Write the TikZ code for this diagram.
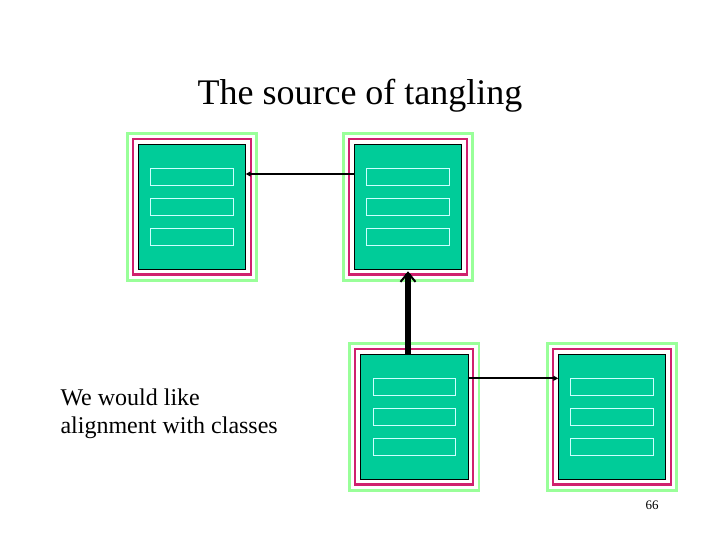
\documentclass[tikz,border=0pt]{standalone}
\usepackage{fontspec}
\setmainfont{Liberation Serif}
\usetikzlibrary{arrows.meta,calc}
\definecolor{boxteal}{HTML}{00CC99}
\definecolor{boxmag}{HTML}{D0206E}
\definecolor{boxgreen}{HTML}{99FF99}
\definecolor{rowline}{HTML}{CCFFFF}
\begin{document}
\begin{tikzpicture}[x=1pt,y=-1pt,
  classbox/.style={draw=black, line width=0.8pt, fill=boxteal, minimum width=107.4pt, minimum height=125pt, inner sep=0pt, outer sep=0pt},
  magframe/.style={draw=boxmag, line width=2.5pt},
  greenframe/.style={draw=boxgreen, line width=2.5pt},
  rowbox/.style={draw=rowline, line width=0.8pt, minimum width=82.6pt, minimum height=17pt, inner sep=0pt, outer sep=0pt},
  thinarrow/.style={line width=1.8pt, -{Triangle[length=5pt,width=5pt]}},
  thickarrow/.style={line width=6pt, -{Straight Barb[length=9pt,width=15pt,line width=2pt]}},
  txt/.style={inner sep=0pt, outer sep=0pt}
]
\useasboundingbox (0,0) rectangle (720,540);

% class boxes
\node[classbox] (b1) at (192,206.8) {};
\node[classbox] (b2) at (408,206.8) {};
\node[classbox] (b3) at (414.2,416.8) {};
\node[classbox] (b4) at (612,416.8) {};

\foreach \b in {b1,b2,b3,b4} {
  \draw[magframe] ($(\b.north west)+(-5.3,-5.3)$) rectangle ($(\b.south east)+(5.3,5.3)$);
  \draw[greenframe] ($(\b.north west)+(-11,-11)$) rectangle ($(\b.south east)+(11,11)$);
  \node[rowbox] (\b r1) at ($(\b.center)+(0,-30)$) {};
  \node[rowbox] (\b r2) at (\b.center) {};
  \node[rowbox] (\b r3) at ($(\b.center)+(0,30)$) {};
}

% connectors
\coordinate (a1s) at ($(b2.north west)+(0,29.7)$);
\draw[thinarrow] (a1s) -- (a1s -| b1.east);
\coordinate (a2s) at ($(b3.north east)+(0,24)$);
\draw[thinarrow] (a2s) -- (a2s -| b4.west);
\draw[thickarrow] (b3.north -| b2.south) -- ($(b2.south)+(0,2)$);

% texts
\node[txt, anchor=base, font=\fontsize{36}{43}\selectfont] (title) at (360,105) {The source of tangling};
\node[txt, anchor=base west, font=\fontsize{24}{28}\selectfont] (note1) at (60.5,405) {We would like};
\node[txt, anchor=base west, font=\fontsize{24}{28}\selectfont] (note2) at (60.5,433) {alignment with classes};
\node[txt, anchor=base, font=\fontsize{13}{15}\selectfont] (page) at (652,509.5) {66};
\end{tikzpicture}
\end{document}
